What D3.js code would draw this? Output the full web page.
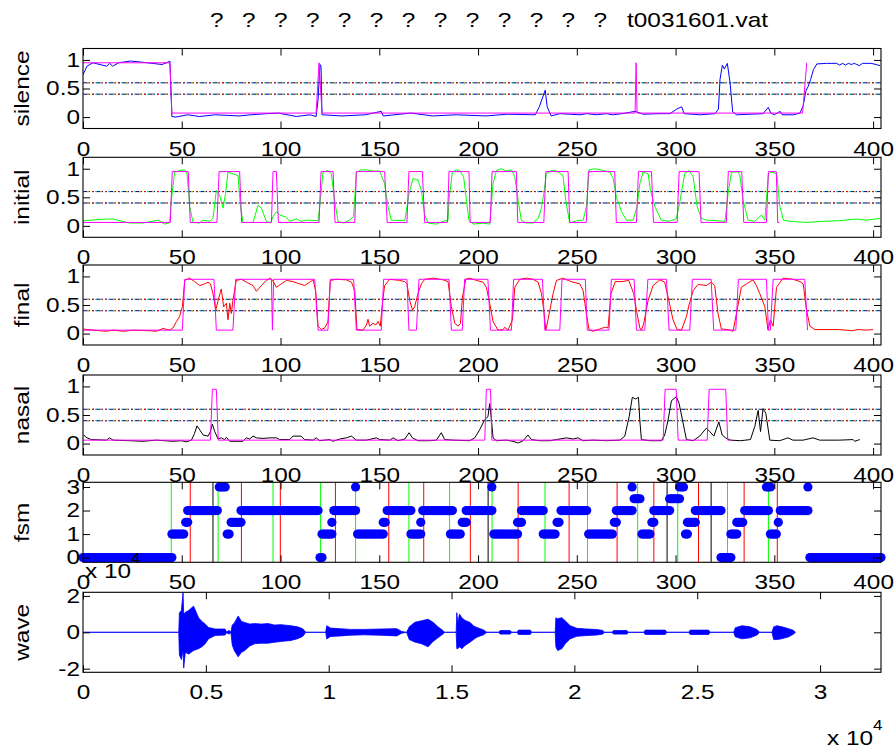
<!DOCTYPE html>
<html>
<head>
<meta charset="utf-8">
<script src="https://cdnjs.cloudflare.com/ajax/libs/d3/7.8.5/d3.min.js"></script>
<style>
  body { margin: 0; background: #fff; }
  svg { display: block; }
  text { font-family: "Liberation Sans", Arial, Helvetica, sans-serif; }
</style>
</head>
<body>
<svg id="chart" width="895" height="749"></svg>
<script>
// ---- data ----
var frameTicks = [0, 50, 100, 150, 200, 250, 300, 350, 400];
var unitTicks = [0, 0.5, 1];
var fsmTicks = [0, 1, 2, 3];
var waveYTicks = [-2, 0, 2];
var waveXTicks = [0, 5000, 10000, 15000, 20000, 25000, 30000];
var thresholds = [0.4, 0.6];
var panelNames = ["silence", "initial", "final", "nasal", "fsm", "wave"];
var titleMarks = ["?", "?", "?", "?", "?", "?", "?", "?", "?", "?", "?", "?", "?"];
var fileName = "t0031601.vat";

// [frame, value]
var silence = [[0,.74],[2,.89],[5,.95],[12,.89],[13.5,.94],[15,.89],[18,.95],[24,.98],[30,.96],[35,.94],[40,.92],[43,.96],[44,.98],[45,.01],[47,0],[53,.04],[59,.01],[67,.04],[79,.02],[85,.04],[93,.06],[99,.07],[108,.01],[115,.04],[118,.01],[119,.3],[120,.92],[120.5,.89],[121,.04],[131,.02],[143,.04],[151,.1],[152,.02],[166,.07],[177,.02],[189,.04],[204,.02],[215,.05],[229,.04],[231,.18],[234,.47],[235,.18],[237,.02],[241.5,.06],[251.6,.04],[255,.06],[260,.04],[265,.06],[268,.04],[273,.06],[279.5,.1],[283.7,.05],[292.1,.06],[297.2,.06],[300.6,.14],[303.1,.18],[304.3,.06],[312.4,.04],[320,.06],[321.7,.14],[322.5,.66],[323.7,.91],[324.7,.84],[326.2,.94],[327.6,.6],[328.9,.09],[330.9,.04],[344.4,.06],[346.9,.17],[348.2,.07],[350,.04],[352.9,.1],[354,.04],[359.6,.04],[363,.07],[364.6,.2],[366,.46],[367.2,.54],[368.4,.66],[369.8,.83],[371.5,.93],[376.5,.94],[381.6,.94],[383,.91],[384.5,.94],[386,.91],[387.5,.94],[389,.92],[390.5,.94],[393,.9],[394.6,.94],[399,.94],[401.5,.92],[403.5,.9]];
var silenceTarget = [[0,.95],[44,.95],[45,.07],[118,.07],[119.5,.95],[121,.07],[279.5,.07],[280,.95],[280.5,.07],[364.3,.07],[366.4,.95]];

var initial = [[0,.09],[11.8,.12],[15.2,.12],[18.6,.09],[23.6,.05],[30.4,.05],[38,.1],[41.4,.03],[43.9,.06],[44.7,.45],[46.4,.94],[48.9,.97],[51.5,.98],[52.7,.91],[54,.34],[55.7,.06],[59.1,.05],[60.8,.1],[64.1,.08],[65.8,.13],[67.5,.62],[69.2,.54],[70.9,.31],[72.2,.57],[73.4,.94],[75.9,.91],[78.5,.88],[79.7,.34],[81,.06],[86.1,.06],[88.6,.36],[90.3,.31],[92.8,.08],[94.9,.05],[96.2,.16],[97.9,.25],[99.6,.19],[103,.15],[104.6,.08],[108,.12],[110.5,.08],[113.1,.1],[119,.09],[120.2,.45],[121.5,.94],[124,.97],[125.7,.91],[127.4,.45],[129.1,.08],[131.6,.05],[135,.1],[137,.16],[138.4,.94],[140.9,.98],[143.5,.98],[146.8,.96],[150.2,.96],[152.7,.74],[154.4,.34],[156.1,.1],[162.9,.09],[165.1,.57],[167.1,.83],[169.6,.8],[171.3,.62],[173,.19],[174.7,.05],[178.9,.03],[182.3,.08],[184.8,.1],[185.3,.45],[187,.94],[189,.98],[190.7,.97],[192.7,.86],[194.1,.45],[195.4,.1],[197.5,.03],[202.5,.05],[205.9,.03],[207.6,.74],[209.3,.97],[211.8,1],[214.3,.96],[216.9,.98],[218.6,.86],[220.3,.45],[221.9,.1],[224.5,.05],[227.8,.05],[230.4,.13],[232.1,.31],[233.3,.57],[234.6,.91],[237.1,.97],[239.7,.96],[243,.88],[244.4,.45],[246.4,.05],[249.8,.09],[253.2,.1],[254.9,.34],[256.2,.98],[259.1,1],[263.3,.97],[266.7,.94],[268.4,.83],[270,.51],[272.6,.25],[275.1,.1],[278.5,.1],[280.5,.34],[281.9,.74],[283.5,.94],[286.1,.91],[287.3,.62],[289.5,.34],[292.8,.1],[297,.08],[300.4,.13],[302,.39],[304.6,.91],[306.8,.97],[308.9,.86],[310.9,.34],[313.1,.13],[315.6,.1],[320.7,.09],[325,.08],[326.6,.57],[328.3,.94],[331.7,.95],[332.5,.88],[334.2,.45],[336.7,.1],[340.1,.08],[343.5,.19],[345.2,.1],[347,.91],[348.6,.94],[351.2,.91],[352.8,.34],[354.6,.1],[358,.08],[366.3,.06],[374.7,.08],[383.1,.09],[391.6,.12],[396.7,.1],[403.5,.13]];
var initialTarget = [[0,.06],[44.2,.06],[45.2,.95],[53.3,.95],[54.3,.06],[67.8,.06],[68.9,.95],[79.3,.95],[80.3,.06],[95.4,.06],[96.2,.95],[97.9,.95],[98.9,.06],[119.5,.06],[120.5,.95],[126.6,.95],[127.6,.06],[137.6,.06],[138.4,.95],[152.7,.95],[154,.06],[164,.06],[165,.95],[171.8,.95],[173,.06],[184.5,.06],[185.3,.95],[195.4,.95],[196,.06],[206.2,.06],[207.1,.95],[219.4,.95],[220.1,.06],[233.3,.06],[234.3,.95],[245.6,.95],[246.4,.06],[254.8,.06],[255.9,.95],[269.2,.95],[270,.06],[280.2,.06],[281.2,.95],[287.8,.95],[288.8,.06],[300.8,.06],[301.8,.95],[311.9,.95],[312.9,.06],[325.7,.06],[326.7,.95],[333.5,.95],[334.5,.06],[346,.06],[347,.95],[351,.95],[351.7,.06],[352.5,.06]];

var finalTrace = [[0.3,.08],[2,.07],[11.8,.04],[15.2,.06],[20.3,.04],[25.3,.06],[33.8,.05],[37.1,.04],[40.5,.09],[43.9,.06],[45.6,.1],[47.3,.21],[48.9,.3],[50.3,.47],[51.5,.93],[54,.97],[56.5,.91],[59.1,.84],[61.6,.87],[63.3,.9],[64.5,.87],[65.8,.7],[67.2,.41],[68.4,.58],[70,.78],[71.2,.47],[72.6,.53],[73.4,.24],[74.3,.53],[75.1,.35],[75.9,.58],[77.6,.93],[80.2,.95],[82.7,.9],[86.1,.84],[87.8,.74],[90.3,.84],[92.8,.93],[94.9,.97],[95.9,.94],[97.9,.81],[100.4,.87],[103,.93],[106.3,.91],[109.7,.87],[112.2,.84],[114.8,.9],[116.5,.94],[117.8,.75],[119,.13],[120.7,.07],[122.4,.1],[124,.21],[125.2,.93],[128.3,.95],[133.3,.94],[135.9,.9],[137.6,.75],[138.7,.07],[141.8,.06],[143.5,.15],[144.3,.25],[145.1,.13],[146.8,.18],[148.2,.15],[149.4,.21],[150.5,.13],[151.6,.53],[152.7,.84],[155.3,.95],[160.3,.93],[162.9,.91],[164,.87],[165.4,.58],[166.8,.41],[167.9,.47],[169.6,.7],[171.3,.87],[173,.95],[177.2,.97],[182.3,.94],[184.8,.91],[186.5,.47],[188.2,.18],[189.9,.13],[191.1,.18],[192.1,.64],[193.8,.95],[195.8,.97],[199.2,.93],[202.5,.9],[204.2,.81],[205.9,.53],[207.6,.21],[210.1,.06],[212.7,.07],[213.5,.11],[215.2,.06],[217.4,.24],[218.6,.81],[221.1,.95],[224.5,.97],[227.8,.95],[230.4,.9],[232.1,.7],[233.3,.41],[234.3,.06],[235.4,.24],[238,.7],[239.7,.93],[243,.97],[245.6,.93],[248.1,.9],[251.5,.87],[253.2,.75],[254.9,.33],[256.2,.07],[258.2,.04],[261.6,.08],[264.1,.11],[265.8,.1],[267.3,.7],[269.5,.91],[272.9,.91],[276.3,.93],[278.8,.7],[280.5,.35],[281.9,.1],[282.7,.06],[283.9,.18],[286.1,.58],[288.6,.84],[292,.94],[294.5,.9],[296.2,.64],[298.7,.24],[300.8,.07],[303,.06],[305.5,.3],[306.8,.5],[308.9,.75],[311.4,.86],[315.6,.84],[318.1,.9],[319.8,.84],[321.5,.35],[323.2,.08],[326.6,.07],[329.1,.04],[330.8,.35],[333.3,.81],[335.9,.87],[339.2,.94],[340.9,.84],[342.6,.7],[345.2,.47],[346.8,.06],[348,.24],[349.4,.13],[351.1,.81],[354.4,.97],[359.5,.95],[362.9,.91],[364.6,.87],[366.3,.41],[368,.13],[370.5,.07],[383.1,.07],[389.1,.05],[392.4,.07],[396.6,.06],[400,.07]];
var finalTarget = [[0,.06],[50.3,.06],[51.5,.95],[66.3,.95],[67.5,.06],[75.9,.06],[77.3,.95],[95.4,.95],[95.9,.06],[96.5,.95],[117.3,.95],[119,.06],[124,.06],[125.2,.95],[137,.95],[138.4,.06],[151,.06],[152.2,.95],[164,.95],[165,.06],[168.8,.06],[170.1,.95],[185.3,.95],[186.5,.06],[192,.06],[193.2,.95],[205,.95],[206.3,.06],[216.9,.06],[218,.95],[232.6,.95],[233.8,.06],[241.4,.06],[242.5,.95],[254.3,.95],[255.3,.06],[266.3,.06],[267.5,.95],[279,.95],[280.2,.06],[284.4,.06],[286,.95],[295.4,.95],[296.7,.06],[307.2,.06],[308.5,.95],[318,.95],[319.3,.06],[330.5,.06],[331.8,.95],[346,.95],[347,.06],[348,.06],[349.4,.95],[365.4,.95],[366.8,.06]];

var nasal = [[0.3,.15],[2,.1],[4.2,.07],[11.8,.06],[13.5,.1],[15.2,.06],[23.6,.05],[30.4,.04],[37.1,.06],[45.6,.04],[49.8,.05],[52.3,.03],[54.9,.06],[56.5,.18],[57.7,.31],[59.1,.24],[60.8,.15],[63.3,.13],[64.5,.21],[65.5,.34],[66.7,.21],[68.4,.08],[70,.1],[71.7,.07],[72.6,.11],[74.3,.04],[81,.04],[82.7,.1],[84.4,.08],[86.1,.13],[87.8,.1],[91.1,.09],[94.5,.1],[97.9,.1],[99.6,.07],[104.6,.07],[106.3,.13],[110.5,.13],[112.2,.07],[116.5,.06],[118.1,.1],[119.8,.05],[124.9,.07],[126.6,.04],[130,.08],[133.3,.1],[135.9,.13],[138.4,.06],[143.5,.06],[148.5,.1],[150.2,.07],[155.3,.06],[157,.1],[159.5,.05],[162.9,.08],[165.1,.19],[166.8,.1],[169.6,.05],[175.5,.05],[178.9,.06],[181.4,.19],[183.1,.07],[187.3,.06],[195.8,.05],[198.3,.1],[200.8,.24],[203.4,.42],[205,.47],[205.9,.7],[206.8,.41],[207.6,.1],[209.3,.05],[214.3,.06],[217.7,.04],[220.3,.01],[222.8,.05],[225.3,.15],[227,.07],[231.2,.05],[236.3,.05],[239.7,.07],[244.8,.1],[248.1,.08],[250.6,.1],[253.2,.05],[258.2,.06],[265,.05],[271.7,.06],[274.3,.13],[276.5,.47],[278.1,.81],[279.8,.78],[281.2,.81],[281.9,.41],[282.7,.07],[287.1,.05],[292.8,.05],[294.5,.15],[296.2,.41],[297.9,.75],[300.4,.82],[301.8,.7],[303.5,.41],[305.5,.07],[308.9,.05],[312.2,.13],[315.6,.27],[317.3,.21],[319.4,.13],[321.9,.38],[323.6,.15],[325.3,.1],[327.8,.06],[332.9,.05],[337.9,.07],[340.1,.3],[341.8,.58],[343,.21],[344.3,.61],[345.7,.53],[347.7,.06],[352.7,.05],[356.9,.1],[359.4,.06],[364.6,.06],[369.6,.1],[373,.06],[383.1,.06],[389.9,.07],[390.7,.04],[393.2,.07]];
var nasalTarget = [[0,.06],[64.5,.06],[65.5,.95],[67.5,.95],[68.5,.06],[203.4,.06],[204.2,.95],[206.3,.95],[207,.06],[293.7,.06],[294.7,.95],[300.3,.95],[301.3,.06],[316,.06],[317,.95],[325.4,.95],[326.4,.06],[328.3,.06]];

// [first frame, last frame, state]
var fsmRuns = [[0,45,0],[45,51,1],[52,53,1.5],[53,68,2],[69,72,3],[73,74,1],[75,80,1.5],[80,119,2],[120,121,0],[121,126,1],[126,126,1.5],[127,138,2],[138,138,3],[139,152,1],[152,153,1.5],[154,166,2],[166,171,1],[171,171,1.5],[172,187,2],[186,191,1],[192,194,1.5],[194,207,2],[207,207,3],[208,220,1],[220,222,1.5],[222,233,2],[233,239,1],[240,241,1.5],[242,255,2],[256,268,1],[269,270,1.5],[270,278,2],[278,278,3],[279,282,2.5],[283,287,1],[288,289,1.5],[289,297,2],[297,302,2.5],[302,304,3],[305,306,1],[306,310,1.5],[310,323,2],[323,328,0],[328,331,1],[331,334,1.5],[335,347,2],[346,348,3],[348,351,1],[352,352,1.5],[353,367,2],[367,367,3],[368,404,0]];
var greenMarks = [44.7, 68.4, 96.2, 120.3, 138, 165, 185.6, 207.1, 233.9, 255.4, 280.8, 301.1, 326.3, 347];
var redMarks = [54.3, 80.2, 99.9, 127.8, 154.8, 172.5, 196.1, 220.3, 246.1, 270.4, 289, 311.6, 334.7, 351.5];
var blackMarks = [65.8, 205.1, 295.7, 318];

// waveform envelope: [sample, upper, lower] in units of 10^4
var waveEnvelope = [[0,0,0],[3898,0,0],[3924,1.08,-1.26],[4005,1.2,-1.5],[4072,2.2,-1.0],[4099,1.0,-1.97],[4166,1.1,-1.1],[4301,1.2,-1.2],[4502,1.44,-1.0],[4704,.8,-.9],[4838,.6,-.8],[4973,.45,-.63],[5107,.27,-.36],[5376,.18,-.18],[5779,.18,-.15],[5846,.02,-.02],[5940,.1,-.1],[6021,.02,-.02],[6075,.4,-.7],[6156,.5,-1.0],[6317,.9,-1.35],[6451,.6,-1.1],[6586,.54,-1.0],[6787,.45,-.75],[6989,.48,-.63],[7258,.45,-.6],[7526,.48,-.6],[7795,.4,-.55],[8064,.42,-.5],[8467,.36,-.45],[8736,.3,-.35],[8938,.2,-.23],[9072,0,0],[9878,0,0],[9919,.36,-.36],[10080,.23,-.23],[10483,.2,-.2],[10886,.16,-.16],[11424,.16,-.14],[12096,.18,-.16],[12768,.2,-.2],[12970,.05,-.05],[13171,0,0],[13279,.3,-.4],[13507,.55,-.54],[13776,.63,-.63],[14045,.72,-.8],[14246,.55,-.5],[14448,.3,-.3],[14650,.1,-.1],[14717,0,0],[15188,0,0],[15215,1.08,-.9],[15256,.5,-.9],[15324,1.0,-.8],[15419,.8,-.9],[15555,.65,-.72],[15758,.54,-.54],[15894,.35,-.4],[16030,.27,-.27],[16301,.13,-.14],[16437,0,0],[16912,0,0],[16980,.1,-.1],[17387,.1,-.1],[17454,0,0],[17658,0,0],[17726,.12,-.12],[18202,.12,-.12],[18270,0,0],[19220,0,0],[19247,.8,-.8],[19315,.75,-1.0],[19491,.8,-.9],[19627,.63,-.63],[19831,.36,-.36],[20102,.22,-.22],[20509,.18,-.18],[20917,.15,-.15],[21160,.1,-.1],[21214,0,0],[21526,0,0],[21594,.1,-.1],[22137,.1,-.1],[22205,0,0],[22816,0,0],[22884,.12,-.12],[23698,.12,-.12],[23766,0,0],[24648,0,0],[24716,.12,-.12],[25463,.12,-.12],[25531,0,0],[26482,0,0],[26550,.25,-.25],[26821,.36,-.36],[27160,.3,-.3],[27432,.15,-.15],[27541,0,0],[28043,0,0],[28111,.3,-.4],[28247,.36,-.4],[28450,.3,-.35],[28722,.2,-.25],[28926,.1,-.1],[28990,0,0]];

// ---- layout ----
var svg = d3.select("#chart");
var left = 83, right = 881, panelH = 80;
var tops = [48.5, 157.3, 265, 375, 482.3, 592.3];
var fontSize = 20, stretchX = 1.22, tickLen = 7;

var x = d3.scaleLinear().domain([0, 404]).range([left, right]);
var xWave = d3.scaleLinear().domain([0, 32480]).range([left, right]);

// glyphs in the source render wider than Arial, stretch text along its direction
function stretch(sel) {
  sel.each(function() {
    var t = d3.select(this);
    var tx = +t.attr("x") || 0;
    t.attr("transform", "translate(" + tx + ",0) scale(" + stretchX + ",1) translate(" + (-tx) + ",0)");
  });
}

function panel(i, yDomain, yTicks, xScale, xTicks, xFormat, yFormat) {
  var top = tops[i];
  var y = d3.scaleLinear().domain(yDomain).range([top + panelH, top]);
  svg.append("clipPath").attr("id", "clip" + i)
    .append("rect").attr("x", left).attr("y", top).attr("width", right - left).attr("height", panelH);

  var plot = svg.append("g").attr("class", "plot");
  var clipped = plot.append("g").attr("clip-path", "url(#clip" + i + ")");
  var axes = svg.append("g").attr("class", "axes");

  axes.append("rect")
    .attr("x", left).attr("y", top).attr("width", right - left).attr("height", panelH)
    .attr("fill", "none").attr("stroke", "#000").attr("stroke-width", 1.1);

  var bottom = axes.append("g").attr("transform", "translate(0," + (top + panelH) + ")")
    .call(d3.axisBottom(xScale).tickValues(xTicks).tickFormat(xFormat)
      .tickSizeInner(-tickLen).tickSizeOuter(0).tickPadding(13));
  axes.append("g").attr("transform", "translate(0," + top + ")")
    .call(d3.axisTop(xScale).tickValues(xTicks).tickFormat("").tickSizeInner(-tickLen).tickSizeOuter(0));
  var leftAx = axes.append("g").attr("transform", "translate(" + left + ",0)")
    .call(d3.axisLeft(y).tickValues(yTicks).tickFormat(yFormat || d3.format("")).tickSizeInner(-tickLen).tickSizeOuter(0).tickPadding(3));
  axes.append("g").attr("transform", "translate(" + right + ",0)")
    .call(d3.axisRight(y).tickValues(yTicks).tickFormat("").tickSizeInner(-tickLen).tickSizeOuter(0));

  axes.selectAll(".domain").remove();
  axes.selectAll(".tick line").attr("stroke", "#000");
  axes.selectAll("g").attr("font-size", fontSize).attr("font-family", null);
  axes.selectAll(".tick text").attr("fill", "#000");
  stretch(bottom.selectAll(".tick text"));
  stretch(leftAx.selectAll(".tick text"));

  axes.append("text")
    .attr("transform", "translate(29," + (top + panelH / 2) + ") rotate(-90) scale(" + stretchX + ",1)")
    .attr("text-anchor", "middle")
    .attr("font-size", fontSize)
    .text(panelNames[i]);

  return { plot: plot, clipped: clipped, y: y };
}

function drawLine(p, data, color) {
  var line = d3.line().x(function(d) { return x(d[0]); }).y(function(d) { return p.y(d[1]); });
  p.clipped.append("path").datum(data)
    .attr("d", line).attr("fill", "none").attr("stroke", color).attr("stroke-width", 1);
}

function drawThresholds(p) {
  var styles = [
    { color: "#000080", dash: "7,2,2,2", offset: 0 },
    { color: "#ff0000", dash: "2,11", offset: 4 },
    { color: "#c8c800", dash: "2,11", offset: 9 },
    { color: "#00c8c8", dash: "2,11", offset: 1 }
  ];
  thresholds.forEach(function(t) {
    styles.forEach(function(s) {
      p.clipped.append("line")
        .attr("x1", x(0)).attr("x2", x(404))
        .attr("y1", p.y(t)).attr("y2", p.y(t))
        .attr("stroke", s.color).attr("stroke-width", 1)
        .attr("stroke-dasharray", s.dash).attr("stroke-dashoffset", s.offset);
    });
  });
}

// ---- title ----
var title = svg.append("text")
  .attr("transform", "translate(210,27) scale(" + stretchX + ",1)")
  .attr("font-size", fontSize);
titleMarks.forEach(function(m, k) {
  title.append("tspan").attr("x", k * 26.2).attr("y", 0).text(m);
});
title.append("tspan").attr("x", (627 - 210) / stretchX).attr("y", 0).text(fileName);

// ---- four probability panels ----
var series = [
  [silence, silenceTarget, "#0000ff"],
  [initial, initialTarget, "#00ff00"],
  [finalTrace, finalTarget, "#ff0000"],
  [nasal, nasalTarget, "#000000"]
];
series.forEach(function(s, i) {
  var p = panel(i, [-0.2, 1.2], unitTicks, x, frameTicks, d3.format(""));
  drawThresholds(p);
  drawLine(p, s[0], s[2]);
  drawLine(p, s[1], "#ff00ff");
});

// ---- fsm panel ----
var pf = panel(4, [-0.2, 3.2], fsmTicks, x, frameTicks, d3.format(""));
fsmRuns.forEach(function(r) {
  for (var f = r[0]; f <= r[1]; f++) {
    pf.plot.append("circle").attr("cx", x(f)).attr("cy", pf.y(r[2])).attr("r", 4.6).attr("fill", "#0000ff");
  }
});
[[greenMarks, "#00ff00"], [redMarks, "#ff0000"], [blackMarks, "#000000"]].forEach(function(m) {
  pf.clipped.selectAll(null).data(m[0]).enter().append("line")
    .attr("x1", function(d) { return x(d); }).attr("x2", function(d) { return x(d); })
    .attr("y1", pf.y(-0.2)).attr("y2", pf.y(3.2))
    .attr("stroke", m[1]).attr("stroke-width", 1);
});

// ---- wave panel ----
var pw = panel(5, [-2.2, 2.2], waveYTicks, xWave, waveXTicks,
  function(d) { return String(d / 1e4); }, function(d) { return String(d); });
var area = d3.area()
  .x(function(d) { return xWave(d[0]); })
  .y0(function(d) { return pw.y(d[2]); })
  .y1(function(d) { return pw.y(d[1]); });
pw.clipped.append("path").datum(waveEnvelope)
  .attr("d", area).attr("fill", "#0000ff").attr("stroke", "#0000ff").attr("stroke-width", 0.8);

// ---- exponent labels ----
function exponent(xPos, yBase) {
  var t = svg.append("text").attr("x", xPos).attr("y", yBase).attr("font-size", fontSize).text("x 10");
  stretch(t);
  var e = svg.append("text").attr("x", xPos + 46).attr("y", yBase - 15).attr("font-size", 14).text("4");
  stretch(e);
}
exponent(85, 578);
exponent(827, 745);
</script>
</body>
</html>
